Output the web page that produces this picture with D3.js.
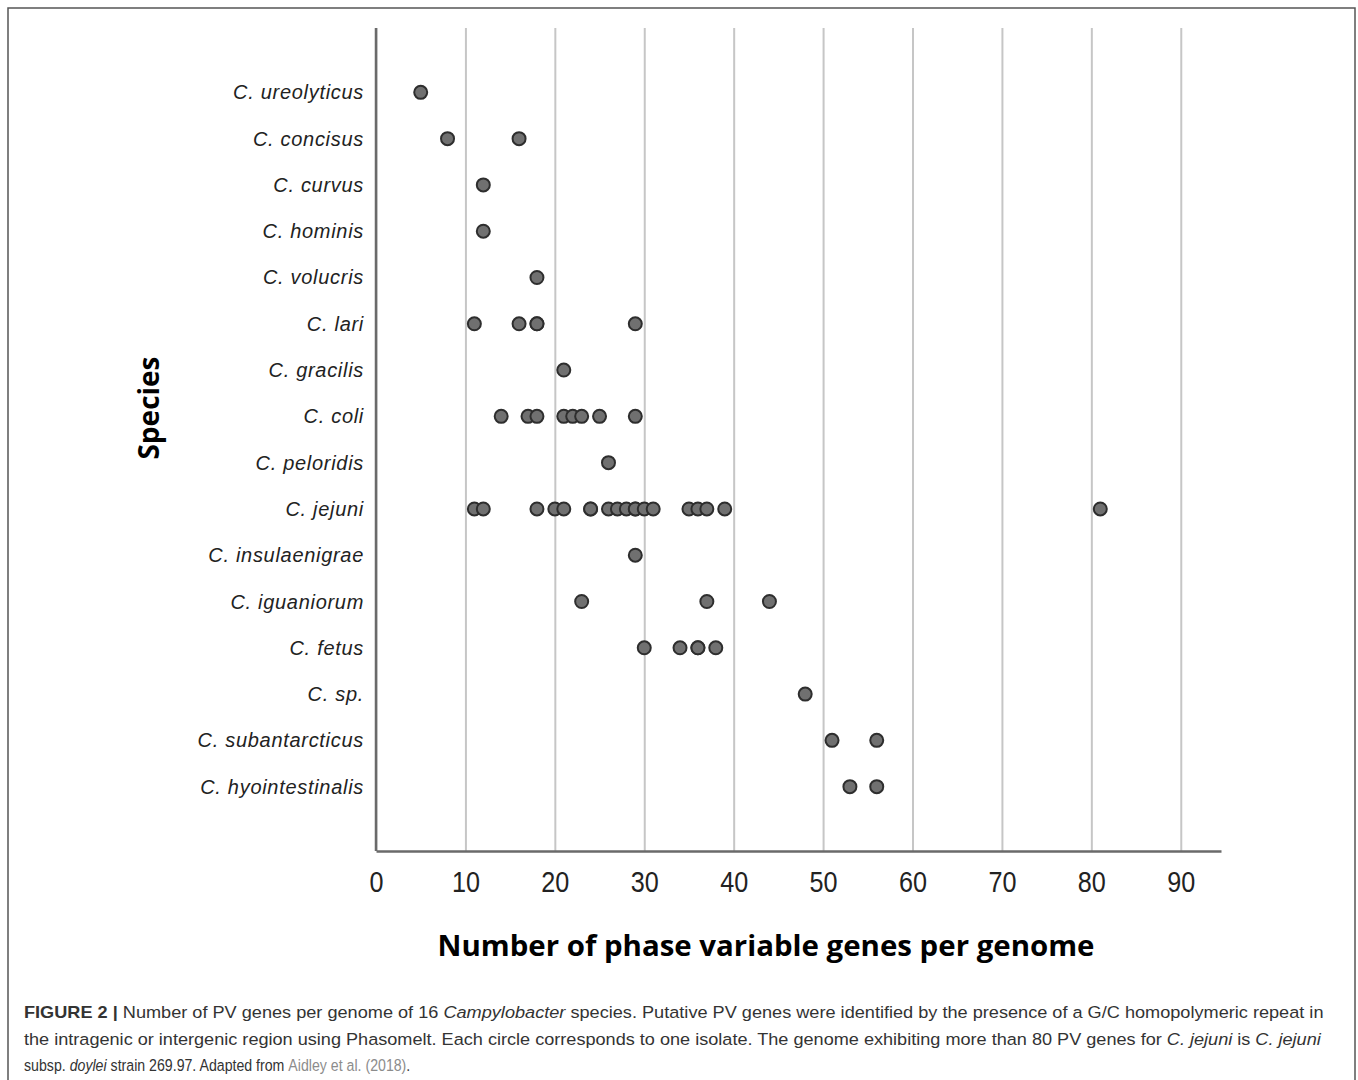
<!DOCTYPE html>
<html lang="en">
<head>
<meta charset="UTF-8">
<title>PV genes per genome</title>
<script src="https://cdn.jsdelivr.net/npm/d3@7"></script>
<style>
  html, body { margin: 0; padding: 0; background: #fff; }
  svg { display: block; }
</style>
</head>
<body>
<div id="chart"></div>
<script>
// species, top to bottom
var species = ["C. ureolyticus", "C. concisus", "C. curvus", "C. hominis", "C. volucris",
  "C. lari", "C. gracilis", "C. coli", "C. peloridis", "C. jejuni", "C. insulaenigrae",
  "C. iguaniorum", "C. fetus", "C. sp.", "C. subantarcticus", "C. hyointestinalis"];

// PV genes per isolate, one list per species (same order)
var pvCounts = [
  [5],
  [8, 16],
  [12],
  [12],
  [18],
  [11, 16, 18, 18, 29],
  [21],
  [14, 17, 18, 21, 22, 23, 25, 29],
  [26],
  [11, 12, 18, 20, 21, 24, 24, 26, 27, 28, 29, 29, 30, 31, 35, 36, 37, 39, 81],
  [29],
  [23, 37, 44],
  [30, 34, 36, 36, 38],
  [48],
  [51, 56],
  [53, 56]
];

var xTicks = [0, 10, 20, 30, 40, 50, 60, 70, 80, 90];

var W = 1358, H = 1080;
var plotL = 376, plotR = 1221, plotT = 28, plotB = 851;

var svg = d3.select("#chart").append("svg")
  .attr("width", W).attr("height", H);

// outer figure frame
svg.append("rect")
  .attr("x", 8).attr("y", 8).attr("width", 1347).attr("height", 1090)
  .attr("fill", "none").attr("stroke", "#555").attr("stroke-width", 1.5);

var x = d3.scaleLinear().domain([0, 94.5]).range([plotL, plotR]);
var y = d3.scalePoint().domain(species).range([plotT, plotB]).padding(1.39);

// vertical gridlines
var grid = svg.append("g")
  .attr("transform", "translate(0," + plotB + ")")
  .call(d3.axisBottom(x).tickValues(xTicks).tickSize(-(plotB - plotT)).tickFormat(""));
grid.select(".domain").remove();
grid.selectAll("line").attr("stroke", "#c6c6c6").attr("stroke-width", 2);

// y axis line
svg.append("line")
  .attr("x1", plotL).attr("x2", plotL).attr("y1", plotT).attr("y2", plotB)
  .attr("stroke", "#6a6a6a").attr("stroke-width", 2.5);

// x axis
var xAxis = svg.append("g")
  .attr("transform", "translate(0," + plotB + ")")
  .call(d3.axisBottom(x).tickValues(xTicks).tickSize(0).tickPadding(20));
xAxis.select(".domain").attr("stroke", "#6a6a6a").attr("stroke-width", 2.5);
xAxis.selectAll("text")
  .attr("font-family", "'Liberation Sans', Arial, sans-serif")
  .attr("font-size", 29).attr("fill", "#222")
  .attr("textLength", function(d) { return String(d).length * 14; })
  .attr("lengthAdjust", "spacingAndGlyphs");

// species labels
svg.append("g").selectAll("text")
  .data(species)
  .join("text")
  .attr("x", 364)
  .attr("y", function(d) { return y(d) + 7; })
  .attr("text-anchor", "end")
  .attr("font-family", "'Liberation Sans', Arial, sans-serif")
  .attr("font-style", "italic")
  .attr("font-size", 20)
  .attr("letter-spacing", 0.7)
  .attr("fill", "#222")
  .text(function(d) { return d; });

// points
var pts = [];
species.forEach(function(s, i) {
  pvCounts[i].forEach(function(v) { pts.push({ sp: s, v: v }); });
});

svg.append("g").selectAll("circle")
  .data(pts)
  .join("circle")
  .attr("cx", function(d) { return x(d.v); })
  .attr("cy", function(d) { return y(d.sp); })
  .attr("r", 6.5)
  .attr("fill", "#707070")
  .attr("stroke", "#2e2e2e")
  .attr("stroke-width", 2);

// axis titles
svg.append("text")
  .attr("transform", "translate(159,408) rotate(-90)")
  .attr("text-anchor", "middle")
  .attr("font-family", "'Open Sans', 'Noto Sans', sans-serif")
  .attr("font-weight", "bold")
  .attr("font-size", 28)
  .attr("fill", "#000")
  .text("Species");

svg.append("text")
  .attr("x", 766).attr("y", 956)
  .attr("text-anchor", "middle")
  .attr("font-family", "'Open Sans', 'Noto Sans', sans-serif")
  .attr("font-weight", "bold")
  .attr("font-size", 28)
  .attr("textLength", 657).attr("lengthAdjust", "spacingAndGlyphs")
  .attr("fill", "#000")
  .text("Number of phase variable genes per genome");

// caption (narrow face in the original, squeezed to the same widths here)
var capFont = "'Liberation Sans', Arial, sans-serif";
var capLines = [
  { y: 1018, len: 1301, parts: [
    { t: "FIGURE 2 | ", b: true },
    { t: "Number of PV genes per genome of 16 " },
    { t: "Campylobacter", i: true },
    { t: " species. Putative PV genes were identified by the presence of a G/C homopolymeric repeat in" }] },
  { y: 1045, len: 1298, parts: [
    { t: "the intragenic or intergenic region using Phasomelt. Each circle corresponds to one isolate. The genome exhibiting more than 80 PV genes for " },
    { t: "C. jejuni", i: true }, { t: " is " }, { t: "C. jejuni", i: true }] },
  { y: 1071, len: 386, parts: [
    { t: "subsp. " }, { t: "doylei", i: true }, { t: " strain 269.97. Adapted from " },
    { t: "Aidley et al. (2018)", c: "#8c8c8c" }, { t: "." }] }
];

capLines.forEach(function(l) {
  var t = svg.append("text")
    .attr("x", 0).attr("y", 0)
    .attr("font-family", capFont)
    .attr("font-size", 16.5)
    .attr("fill", "#333");
  l.parts.forEach(function(p) {
    t.append("tspan")
      .attr("font-weight", p.b ? "bold" : null)
      .attr("font-style", p.i ? "italic" : null)
      .attr("fill", p.c || null)
      .text(p.t);
  });
  var natural = t.node().getComputedTextLength();
  t.attr("transform", "translate(24," + l.y + ") scale(" + (l.len / natural) + ",1)");
});
</script>
</body>
</html>
